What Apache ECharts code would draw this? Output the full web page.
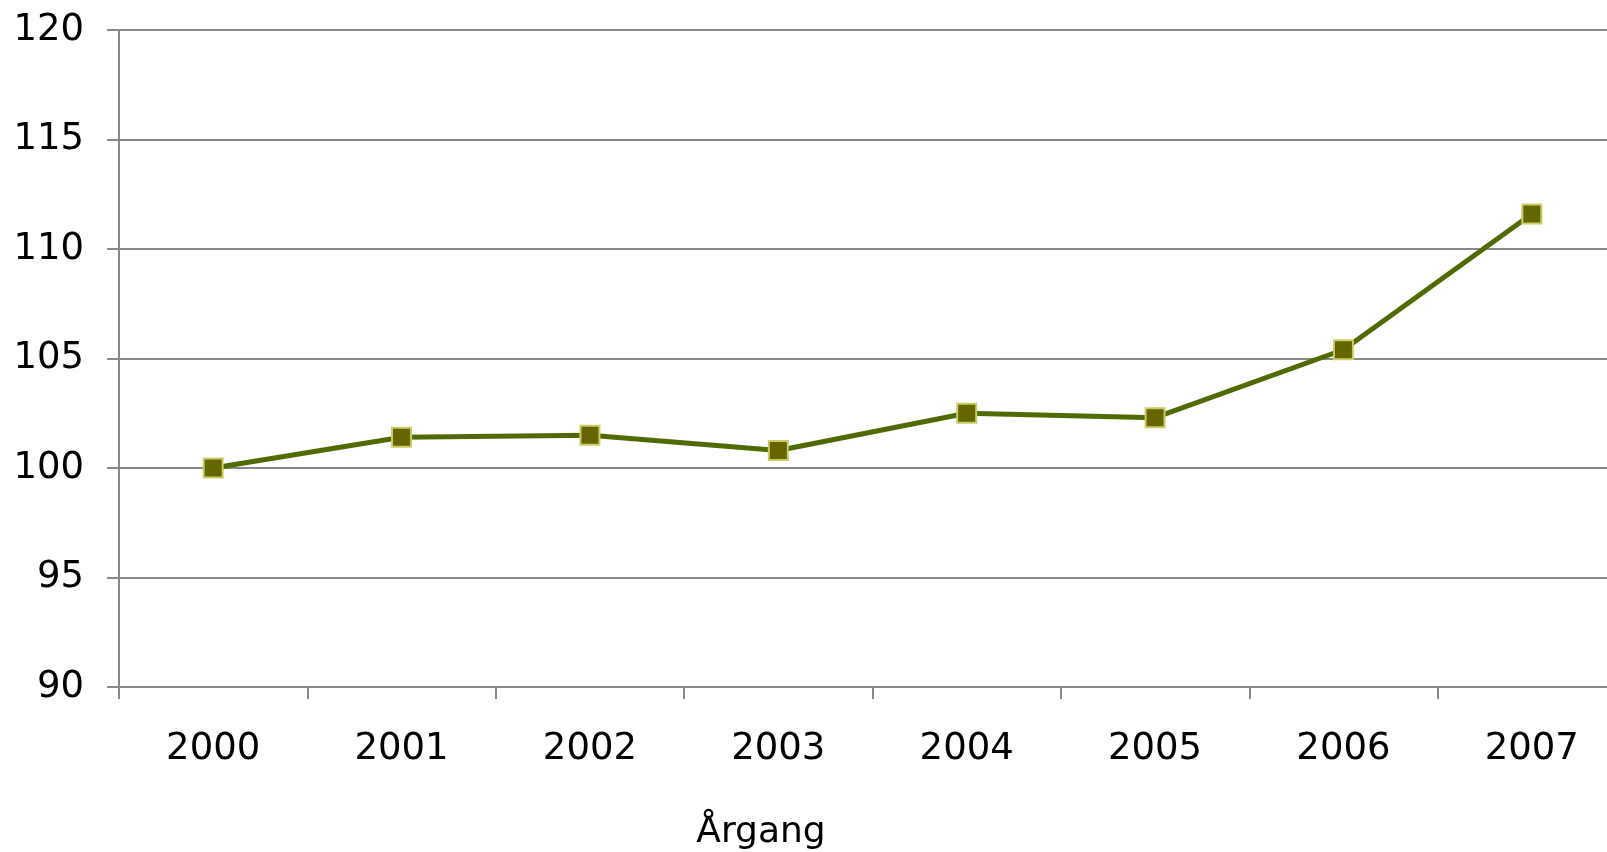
<!DOCTYPE html>
<html>
<head>
<meta charset="utf-8">
<script src="https://cdn.jsdelivr.net/npm/echarts@6/dist/echarts.min.js"></script>
<style>html,body{margin:0;padding:0;background:#fff;}#c{width:1607px;height:852px;}</style>
</head>
<body>
<div id="c"></div>
<script>
const categories = ['2000','2001','2002','2003','2004','2005','2006','2007'];
const values = [100, 101.4, 101.5, 100.8, 102.5, 102.3, 105.4, 111.6];
const xAxisName = 'Årgang';

const chart = echarts.init(document.getElementById('c'));
const font = 'Verdana, "DejaVu Sans", sans-serif';
chart.setOption({
  animation: false,
  title: {
    text: xAxisName, left: 756, top: 810, textAlign: 'center',
    textStyle: {fontFamily: font, fontSize: 36, fontWeight: 'normal', color: '#000'}
  },
  grid: {left: 119, right: -19, top: 30, bottom: 165, outerBoundsMode: 'none'},
  xAxis: {
    type: 'category', data: categories, boundaryGap: true,
    axisLine: {show: true, lineStyle: {color: '#888', width: 2}},
    axisTick: {show: true, length: 12, lineStyle: {color: '#888', width: 2}},
    axisLabel: {fontFamily: font, fontSize: 37, color: '#000', margin: 44}
  },
  yAxis: {
    type: 'value', min: 90, max: 120, interval: 5,
    axisLine: {show: true, lineStyle: {color: '#888', width: 2}},
    axisTick: {show: true, length: 12, lineStyle: {color: '#888', width: 2}},
    axisLabel: {fontFamily: font, fontSize: 37, color: '#000', margin: 35},
    splitLine: {show: true, lineStyle: {color: '#888', width: 2}}
  },
  series: [{
    type: 'line', data: values,
    symbol: 'rect', symbolSize: 19,
    lineStyle: {color: '#4F6A00', width: 5},
    itemStyle: {color: '#666600', borderColor: '#CCCC66', borderWidth: 2},
    z: 5
  }]
});
</script>
</body>
</html>
